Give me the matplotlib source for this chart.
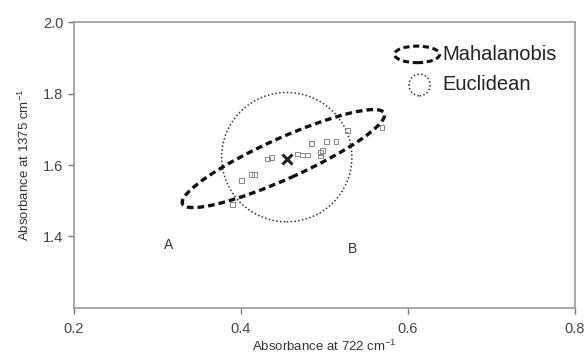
import matplotlib
matplotlib.use('Agg')
import matplotlib.pyplot as plt
from matplotlib.patches import Ellipse, Circle
from matplotlib.transforms import Affine2D

plt.rcParams['font.family'] = ['Liberation Sans', 'DejaVu Sans']
plt.rcParams['mathtext.fontset'] = 'custom'
plt.rcParams['mathtext.rm'] = 'Liberation Sans'
plt.rcParams['mathtext.it'] = 'Liberation Sans'

# sample spectra (absorbance at 722 and 1375 cm-1)
x_722 = [0.390, 0.401, 0.413, 0.416, 0.432, 0.437, 0.468, 0.474, 0.480,
         0.485, 0.495, 0.495, 0.498, 0.503, 0.514, 0.528, 0.569]
y_1375 = [1.490, 1.557, 1.574, 1.574, 1.617, 1.620, 1.631, 1.628, 1.628,
          1.660, 1.634, 1.625, 1.640, 1.665, 1.665, 1.696, 1.705]
mean_pt = (0.455, 1.617)

# Mahalanobis ellipse: center + two conjugate semi-diameters (data units)
maha_center = (0.451, 1.618)
maha_axis1 = (0.1208, 0.1269)
maha_axis2 = (-0.0098, 0.052)

# Euclidean circle (center, half-width, half-height in data units)
eucl_center = (0.455, 1.622)
eucl_rx, eucl_ry = 0.078, 0.181

labels = {'A': (0.314, 1.377), 'B': (0.534, 1.366)}

fig = plt.figure(figsize=(5.86, 3.56), dpi=100)
ax = fig.add_axes([0.126, 0.135, 0.855, 0.803])

ax.scatter(x_722, y_1375, marker='s', s=12, facecolors='none',
           edgecolors='#888888', linewidths=0.7, zorder=3)
ax.plot(*mean_pt, marker='x', color='#222222', ms=7, mew=2.2, zorder=4)

m = Affine2D.from_values(maha_axis1[0], maha_axis1[1], maha_axis2[0],
                         maha_axis2[1], maha_center[0], maha_center[1])
ax.add_patch(Circle((0, 0), 1, fill=False, ec='#111111', lw=2.4,
                    ls=(0, (2.0, 1.2)), transform=m + ax.transData))
ax.add_patch(Ellipse(eucl_center, 2 * eucl_rx, 2 * eucl_ry, fill=False,
                     ec='#333333', lw=1.1, ls=(0, (1, 1.5))))

for k, (lx, ly) in labels.items():
    ax.text(lx, ly, k, ha='center', va='center', fontsize=10, color='#333333')

# legend drawn by hand
ax.add_patch(Ellipse((0.685, 0.887), 0.09, 0.058, transform=ax.transAxes,
                     fill=False, ec='#111111', lw=2.2, ls=(0, (2.0, 1.2))))
ax.text(0.736, 0.887, 'Mahalanobis', transform=ax.transAxes, fontsize=14.5,
        va='center', color='#222222')
ax.add_patch(Ellipse((0.69, 0.78), 0.042, 0.076, transform=ax.transAxes,
                     fill=False, ec='#333333', lw=1.1, ls=(0, (1, 1.5))))
ax.text(0.736, 0.78, 'Euclidean', transform=ax.transAxes, fontsize=14.5,
        va='center', color='#222222')

ax.set_xlim(0.2, 0.8)
ax.set_ylim(1.2, 2.0)
ax.set_xticks([0.2, 0.4, 0.6, 0.8])
ax.set_yticks([1.4, 1.6, 1.8, 2.0])
ax.set_xticklabels(['0.2', '0.4', '0.6', '0.8'])
ax.set_yticklabels(['1.4', '1.6', '1.8', '2.0'])
ax.tick_params(direction='out', length=4, width=1, colors='#777777',
               labelcolor='#444444', labelsize=10.5)
ax.tick_params(axis='x', pad=6)
for s in ax.spines.values():
    s.set_color('#999999')
    s.set_linewidth(1.2)

ax.set_xlabel('Absorbance at 722 cm$^{-1}$', fontsize=9.5, color='#333333',
              labelpad=2)
ax.set_ylabel('Absorbance at 1375 cm$^{-1}$', fontsize=9.5, color='#333333',
              labelpad=8)

fig.savefig('out.png', dpi=100)
